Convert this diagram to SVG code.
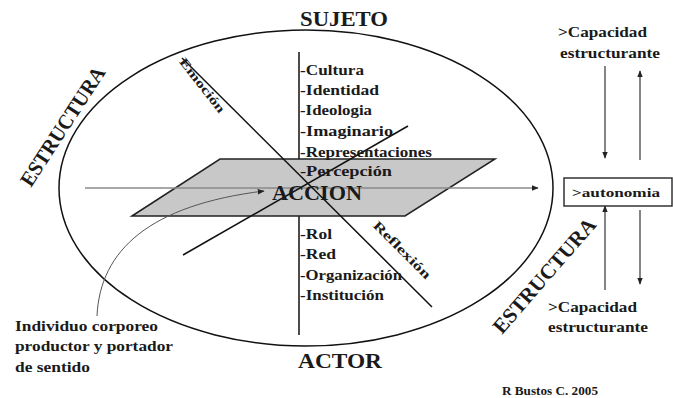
<svg xmlns="http://www.w3.org/2000/svg" width="673" height="398" viewBox="0 0 673 398">
<defs>
<marker id="ah" viewBox="0 0 10 10" refX="9" refY="5" markerWidth="7" markerHeight="7" markerUnits="userSpaceOnUse" orient="auto"><path d="M0,1 L10,5 L0,9 z" fill="#222"/></marker>
<style>
.t{font-family:"Liberation Serif","Times New Roman",serif;font-weight:bold;fill:#1a1a1a}
.ln{stroke:#111;stroke-width:1.5;fill:none}
.ar{stroke:#333;stroke-width:1.2;fill:none;marker-end:url(#ah)}
</style>
</defs>
<rect width="673" height="398" fill="#fff"/>
<g id="ellipse"><ellipse cx="306" cy="188" rx="247" ry="158" class="ln"/></g>
<g id="axis-vertical"><line x1="299" y1="52" x2="299" y2="335" class="ln"/></g>
<g id="plane"><polygon points="132,216 220,159 495,159 405,216" fill="#c8c8c8" stroke="#222" stroke-width="1.5"/></g>
<g id="connectors">
<line x1="85" y1="188" x2="538" y2="188" stroke="#8a8a8a" stroke-width="1.5" marker-end="url(#ah)"/>
<line x1="182" y1="58" x2="432" y2="307" class="ln"/>
<line x1="183" y1="255" x2="408" y2="126" class="ln"/>
<path d="M97,316 C100,250 150,205 264,191" stroke="#555" stroke-width="1" fill="none" marker-end="url(#ah)"/>
<line x1="605" y1="66" x2="605" y2="158" class="ar"/>
<line x1="640" y1="160" x2="640" y2="71" class="ar"/>
<line x1="605" y1="290" x2="605" y2="206" class="ar"/>
<line x1="640" y1="210" x2="640" y2="284" class="ar"/>
</g>
<g id="sujeto"><text class="t" x="300" y="26" font-size="21" textLength="88" lengthAdjust="spacingAndGlyphs">SUJETO</text></g>
<g id="actor"><text class="t" x="298" y="368" font-size="22" textLength="84" lengthAdjust="spacingAndGlyphs">ACTOR</text></g>
<g id="accion"><text class="t" x="272" y="200" font-size="22" textLength="90" lengthAdjust="spacingAndGlyphs" fill="#2a2a2a">ACCION</text></g>
<g id="sujeto-list" class="t" font-size="14.5">
<text x="300" y="75" textLength="64" lengthAdjust="spacingAndGlyphs">-Cultura</text>
<text x="300" y="95" textLength="79" lengthAdjust="spacingAndGlyphs">-Identidad</text>
<text x="300" y="115" textLength="72" lengthAdjust="spacingAndGlyphs">-Ideologia</text>
<text x="300" y="136" textLength="93" lengthAdjust="spacingAndGlyphs">-Imaginario</text>
<text x="300" y="157" textLength="132" lengthAdjust="spacingAndGlyphs">-Representaciones</text>
<text x="300" y="176" textLength="92" lengthAdjust="spacingAndGlyphs">-Percepción</text>
</g>
<g id="actor-list" class="t" font-size="14.5">
<text x="300" y="239" textLength="32" lengthAdjust="spacingAndGlyphs">-Rol</text>
<text x="300" y="259" textLength="36" lengthAdjust="spacingAndGlyphs">-Red</text>
<text x="300" y="280" textLength="102" lengthAdjust="spacingAndGlyphs">-Organización</text>
<text x="300" y="300" textLength="84" lengthAdjust="spacingAndGlyphs">-Institución</text>
</g>
<g id="emocion"><text class="t" font-size="12.5" text-anchor="middle" transform="translate(199,88) rotate(52)" textLength="66" lengthAdjust="spacingAndGlyphs">Emoción</text></g>
<g id="reflexion"><text class="t" font-size="13" text-anchor="middle" transform="translate(399,253) rotate(45)" textLength="76" lengthAdjust="spacingAndGlyphs">Reflexión</text></g>
<g id="estructura-left"><text class="t" font-size="21" transform="translate(31,188) rotate(-57)" textLength="138" lengthAdjust="spacingAndGlyphs">ESTRUCTURA</text></g>
<g id="estructura-right"><text class="t" font-size="21" transform="translate(502,335) rotate(-49)" textLength="145" lengthAdjust="spacingAndGlyphs">ESTRUCTURA</text></g>
<g id="autonomia">
<rect x="564" y="178" width="108" height="28" fill="#fff" stroke="#333" stroke-width="1.5"/>
<text class="t" x="572" y="197" font-size="13" textLength="88" lengthAdjust="spacingAndGlyphs">&gt;autonomia</text>
</g>
<g id="capacidad-top" class="t" font-size="14">
<text x="558" y="37" textLength="89" lengthAdjust="spacingAndGlyphs">&gt;Capacidad</text>
<text x="560" y="58" textLength="100" lengthAdjust="spacingAndGlyphs">estructurante</text>
</g>
<g id="capacidad-bottom" class="t" font-size="14">
<text x="548" y="312" textLength="89" lengthAdjust="spacingAndGlyphs">&gt;Capacidad</text>
<text x="548" y="332" textLength="100" lengthAdjust="spacingAndGlyphs">estructurante</text>
</g>
<g id="individuo" class="t" font-size="14.5" fill="#2a1e18">
<text x="15" y="331" textLength="143" lengthAdjust="spacingAndGlyphs">Individuo corporeo</text>
<text x="15" y="351" textLength="158" lengthAdjust="spacingAndGlyphs">productor y portador</text>
<text x="15" y="372" textLength="75" lengthAdjust="spacingAndGlyphs">de sentido</text>
</g>
<g id="credit"><text class="t" x="502" y="395" font-size="13" textLength="96" lengthAdjust="spacingAndGlyphs">R Bustos C. 2005</text></g>
</svg>
